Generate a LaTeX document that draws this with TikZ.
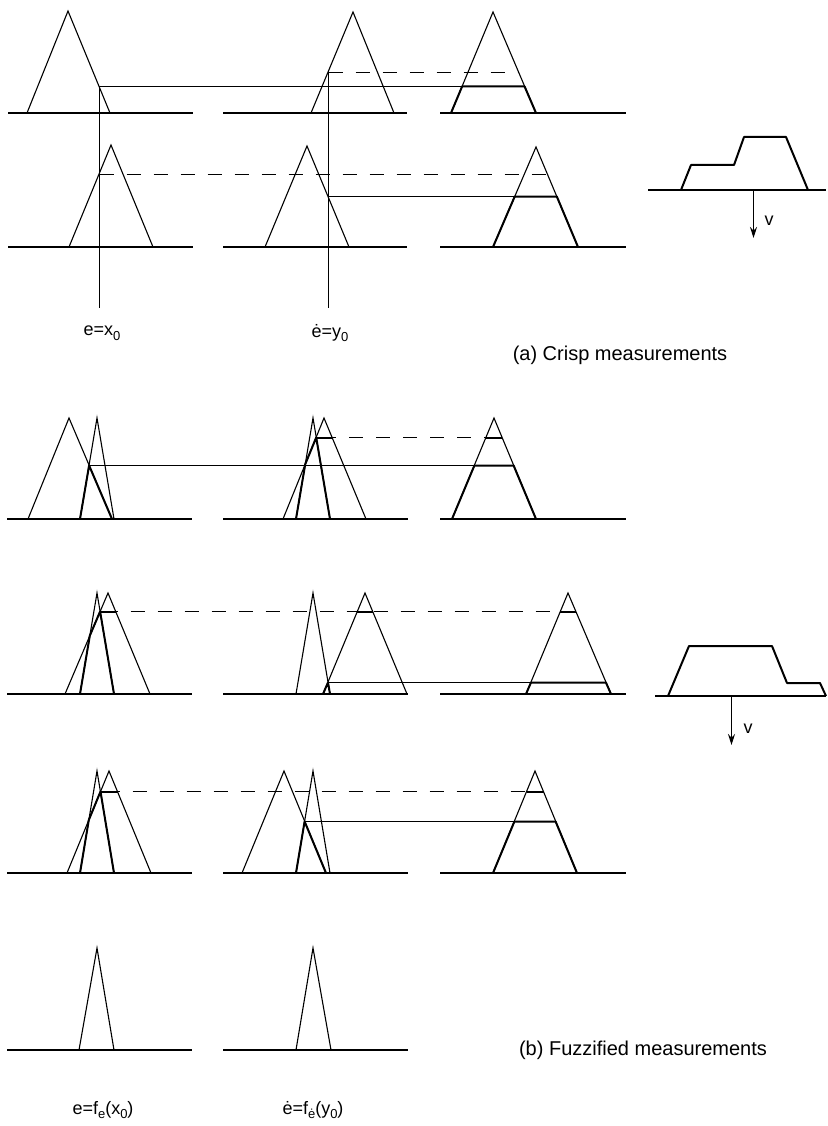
\documentclass[tikz,border=0pt]{standalone}
\usepackage{fontspec}
\setmainfont{Liberation Sans}
\usetikzlibrary{arrows.meta}
\newcommand{\lowsub}[1]{\raisebox{-0.5ex}{\fontsize{13}{13}\selectfont #1}}

\begin{document}
\begin{tikzpicture}[x=1pt, y=-1pt,
  baseln/.style={line width=1.9pt},
  mf/.style={line width=1.1pt},
  cut/.style={line width=2pt, line join=round},
  vline/.style={line width=1pt},
  lvl/.style={line width=1.5pt},
  dlvl/.style={line width=1.6pt, dash pattern=on 14pt off 13pt},
  arr/.style={-{Stealth[length=11pt, width=7pt]}, line width=1.2pt},
  lbl/.style={font=\fontsize{18}{20}\selectfont, inner sep=0pt},
  title/.style={font=\fontsize{20}{24}\selectfont, inner sep=0pt}
]
\useasboundingbox (0,0) rectangle (827,1126);

% (a) crisp measurements
\draw[baseln] (8,113)--(193,113) (223,113)--(407,113) (440,113)--(626,113);
\draw[baseln] (8,247)--(193,247) (223,247)--(407,247) (440,247)--(626,247);
\draw[mf] (27,113)--(68,11)--(110,113);
\draw[mf] (311,113)--(353,12)--(394,113);
\draw[mf] (451,113)--(493,12)--(536,113);
\draw[mf] (69,247)--(111,145)--(153,247);
\draw[mf] (265,247)--(307,146)--(349,247);
\draw[mf] (493,247)--(536,147)--(578,247);

\draw[vline] (99.5,86.5)--(99.5,308);
\draw[vline] (328.5,72.5)--(328.5,308);
\draw[lvl] (99.5,86.5)--(524.6,86.5);
\draw[dlvl] (328.5,72.5)--(518.6,72.5);
\draw[dlvl] (99.5,174.5)--(547.4,174.5);
\draw[lvl] (328.5,196.5)--(556.8,196.5);
\draw[cut] (451,113)--(462.1,86.5)--(524.6,86.5)--(536,113);
\draw[cut] (493,247)--(514.7,196.5)--(556.8,196.5)--(578,247);

% output
\draw[baseln] (648,190)--(826,190);
\draw[cut] (681,190)--(691,165)--(734,165)--(744,137)--(786,137)--(808,190);
\coordinate (va) at (753.5,190);
\coordinate (vaend) at (753.5,238);
\draw[arr] (va)--(vaend);
\node[lbl] (vlabela) at (769,221) {v};

\node[lbl] (ex) at (102,333) {e=x\lowsub{0}};
\node[lbl] (edy) at (330,333) {\.e=y\lowsub{0}};
\node[title] (ta) at (620,355) {(a) Crisp measurements};

% (b) fuzzified measurements
\foreach \y in {519,694,873,1050}
  \draw[baseln] (7,\y)--(192,\y) (223,\y)--(408,\y);
\foreach \y in {519,694,873}
  \draw[baseln] (440,\y)--(626,\y);

% row 1
\draw[mf] (28,519)--(69,418)--(112,519);
\draw[mf] (80,519)--(97,418)--(114,519);
\draw[mf] (283,519)--(324,418)--(366,519);
\draw[mf] (296,519)--(313,418)--(330,519);
\draw[mf] (452,519)--(494,418)--(536,519);
\draw[cut] (80,519)--(89.1,465.5)--(112,519);
\draw[cut] (296,519)--(305.2,464.3)--(316.2,437.5)--(330,519);
\draw[cut] (316.2,437.5)--(332,437.5);
\draw[lvl] (89.1,465.5)--(513.6,465.5);
\draw[dlvl, dash phase=10pt] (332,437.5)--(502,437.5);
\draw[cut] (486,437.5)--(502,437.5);
\draw[cut] (452,519)--(474.4,465.5)--(513.6,465.5)--(536,519);

% row 2
\draw[mf] (65,694)--(108,593)--(150,694);
\draw[mf] (80,694)--(97,593)--(114,694);
\draw[mf] (323,694)--(365,593)--(407,694);
\draw[mf] (296,694)--(313,593)--(330,694);
\draw[mf] (526,694)--(568,593)--(611,694);
\draw[cut] (80,694)--(89.8,635.7)--(100.1,611.5)--(114,694);
\draw[cut] (100.1,611.5)--(115.7,611.5);
\draw[cut] (323,694)--(328,682.5)--(330,694);
\draw[dlvl, dash phase=12pt] (115.7,611.5)--(575.9,611.5);
\draw[cut] (357.3,611.5)--(372.7,611.5);
\draw[cut] (560.3,611.5)--(575.9,611.5);
\draw[lvl] (328,682.5)--(605.9,682.5);
\draw[cut] (526,694)--(531,682.5)--(605.9,682.5)--(611,694);

% output
\draw[baseln] (655,696)--(826,696);
\draw[cut] (668,696)--(689,646)--(772,646)--(787,683)--(820,683)--(826,696);
\coordinate (vb) at (731.5,696);
\coordinate (vbend) at (731.5,745);
\draw[arr] (vb)--(vbend);
\node[lbl] (vlabelb) at (748,729) {v};

% row 3
\draw[mf] (67,873)--(109,771)--(151,873);
\draw[mf] (80,873)--(97,771)--(114,873);
\draw[mf] (242,873)--(284,771)--(326,873);
\draw[mf] (296,873)--(313,771)--(330,873);
\draw[mf] (493,873)--(535,771)--(577,873);
\draw[cut] (80,873)--(88.8,820)--(100.5,791.5)--(114,873);
\draw[cut] (100.5,791.5)--(117.5,791.5);
\draw[cut] (296,873)--(304.6,821.5)--(326,873);
\draw[dlvl, dash phase=12pt] (117.5,791.5)--(543.5,791.5);
\draw[cut] (526.5,791.5)--(543.5,791.5);
\draw[lvl] (304.6,821.5)--(555.6,821.5);
\draw[cut] (493,873)--(514.4,821.5)--(555.6,821.5)--(577,873);

% row 4
\draw[mf] (79,1050)--(97,948)--(114,1050);
\draw[mf] (296,1050)--(313,948)--(331,1050);

\node[lbl] (efx) at (103,1110) {e=f\lowsub{e}(x\lowsub{0})};
\node[lbl] (edfy) at (313,1110) {\.e=f\lowsub{\.e}(y\lowsub{0})};
\node[title] (tb) at (643,1050) {(b) Fuzzified measurements};
\end{tikzpicture}
\end{document}
